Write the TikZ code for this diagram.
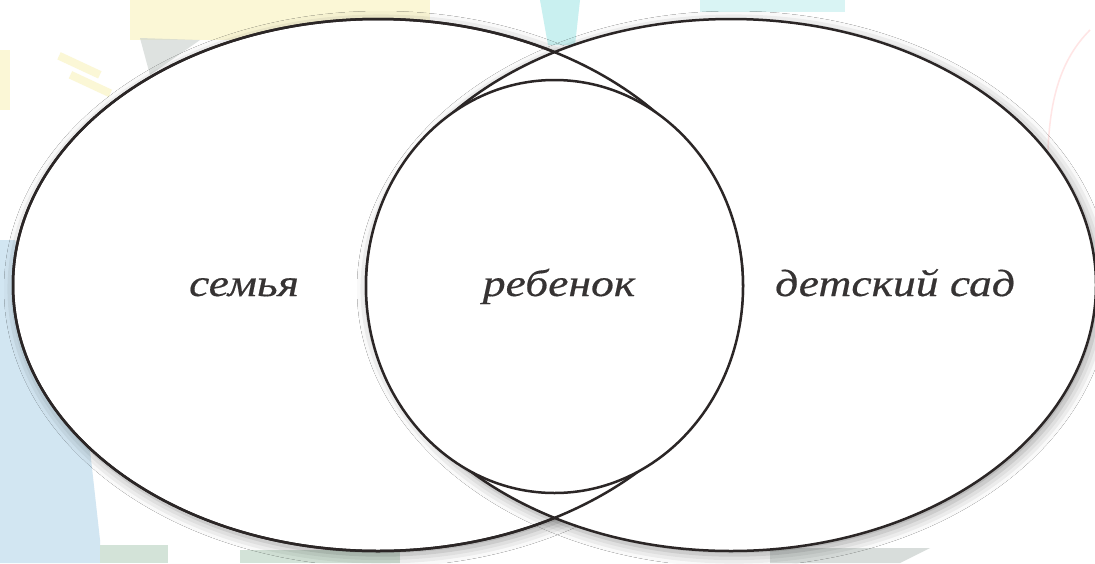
\documentclass[tikz,border=0pt]{standalone}
\usepackage{fontspec}
\setmainfont{Liberation Serif}
\newfontfamily\labfont{Liberation Serif}[FakeBold=0.4]
\usetikzlibrary{shadows.blur}
\definecolor{ink}{HTML}{2B2626}
\definecolor{textink}{HTML}{363333}
\definecolor{paleyellow}{HTML}{FBF7D6}
\definecolor{paleblue}{HTML}{D2E6F2}
\definecolor{palegreen}{HTML}{D3E3D8}
\definecolor{palecyan}{HTML}{C9F0F0}
\definecolor{palegray}{HTML}{C8CFCC}
\tikzset{
  ring/.style={draw=ink, line width=2.5pt, fill=white},
  shadowed/.style={blur shadow={shadow xshift=3pt, shadow yshift=-4pt, shadow blur radius=12pt, shadow opacity=40}},
  label/.style={font=\labfont\itshape\fontsize{38}{44}\selectfont, text=textink, inner sep=0pt, xscale=1.2, anchor=base}
}
\begin{document}
\begin{tikzpicture}[x=1pt,y=-1pt]
\useasboundingbox (0,0) rectangle (1095,563);
\fill[white] (0,0) rectangle (1095,563);
% faint background patches
\fill[paleyellow] (130,0) rectangle (430,40);
\fill[paleyellow] (0,50) rectangle (10,110);
\fill[paleyellow, rotate around={-25:(80,70)}] (55,62) rectangle (100,70);
\fill[paleyellow, rotate around={-25:(90,85)}] (68,80) rectangle (112,88);
\fill[palegray, opacity=0.6] (140,38) -- (200,40) -- (150,75) -- cycle;
\fill[paleblue] (0,240) -- (15,240) -- (60,380) -- (90,450) -- (100,540) -- (100,563) -- (0,563) -- cycle;
\fill[palegreen] (100,545) rectangle (168,563);
\fill[palegreen] (240,550) rectangle (400,563);
\fill[palecyan] (540,0) -- (580,0) -- (575,45) -- (548,45) -- cycle;
\fill[palecyan, opacity=0.7] (700,0) rectangle (845,12);
\draw[pink!40, line width=1.5pt] (1090,30) .. controls (1060,60) and (1050,100) .. (1048,150);
\fill[palegray, opacity=0.7] (770,548) -- (930,548) -- (900,563) -- (770,563) -- cycle;
% ellipses
\draw[ring, shadowed] (378,285) ellipse [x radius=365, y radius=266];
\draw[ring, shadowed] (731,285) ellipse [x radius=365, y radius=266];
\draw[ring, fill=none] (378,285) ellipse [x radius=365, y radius=266];
\draw[ring] (554.5,286.5) ellipse [x radius=188.5, y radius=206.5];
% labels
\node[label] (family) at (244,296) {семья};
\node[label] (child) at (559,296) {ребенок};
\node[label] (kinder) at (895,296) {детский сад};
\end{tikzpicture}
\end{document}
